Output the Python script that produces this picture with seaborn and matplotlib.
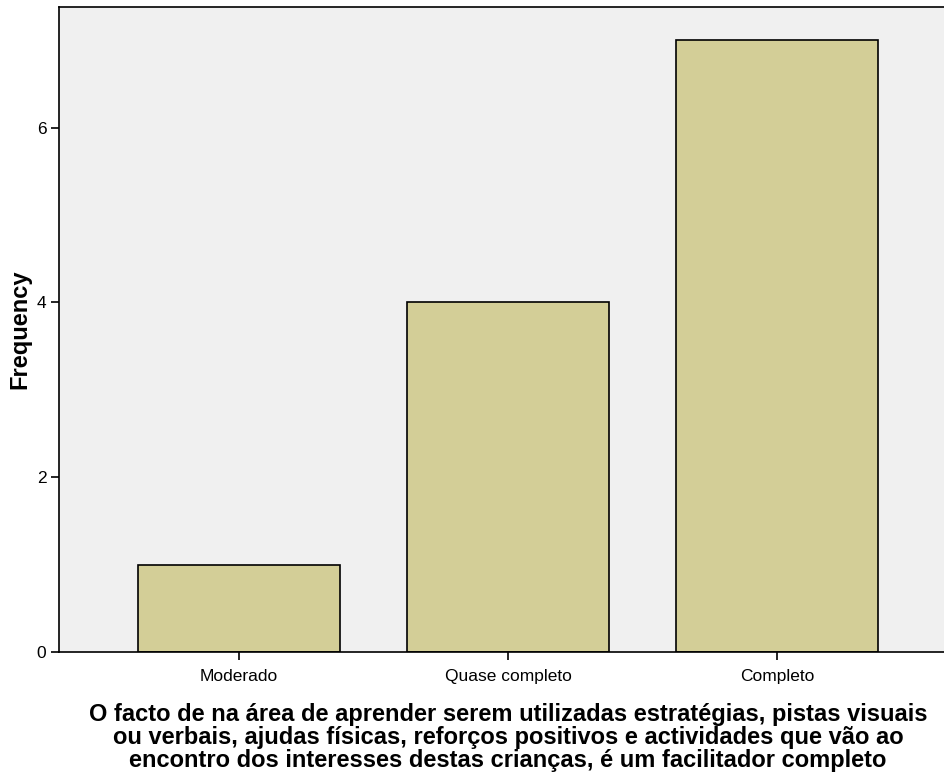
import matplotlib
matplotlib.use("Agg")
import matplotlib.pyplot as plt
import seaborn as sns
import pandas as pd

categories = ["Moderado", "Quase completo", "Completo"]
frequency = [1, 4, 7]
y_ticks = [0, 2, 4, 6]
x_title = ("O facto de na área de aprender serem utilizadas estratégias, pistas visuais\n"
           "ou verbais, ajudas físicas, reforços positivos e actividades que vão ao\n"
           "encontro dos interesses destas crianças, é um facilitador completo")

sns.set_style("white")
plt.rcParams["font.family"] = ["Liberation Sans", "DejaVu Sans"]
plt.rcParams["text.color"] = "black"
plt.rcParams["axes.labelcolor"] = "black"
plt.rcParams["xtick.color"] = "black"
plt.rcParams["ytick.color"] = "black"

df = pd.DataFrame({"cat": categories, "freq": frequency})

fig = plt.figure(figsize=(9.45, 7.74), dpi=100)
ax = fig.add_axes([59 / 945, 122 / 774, 898 / 945, 645 / 774])
ax.set_facecolor("#F0F0F0")

sns.barplot(data=df, x="cat", y="freq", color="#D3CE97", width=0.75,
            edgecolor="black", linewidth=1.2, saturation=1, ax=ax)

ax.set_xlim(-0.669, 2.669)
ax.set_ylim(0, 7.38)
ax.set_yticks(y_ticks)
ax.tick_params(axis="both", direction="out", length=6, width=1.2, color="black",
               labelcolor="black", labelsize=12.5, left=True, bottom=True)
ax.tick_params(axis="x", pad=6)
ax.tick_params(axis="y", pad=3)
ax.set_ylabel("Frequency", fontsize=17, fontweight="bold", labelpad=4)
ax.set_xlabel(x_title, fontsize=17, fontweight="bold", labelpad=14, linespacing=1.0)
for side in ["left", "top", "bottom"]:
    ax.spines[side].set_color("black")
    ax.spines[side].set_linewidth(1.2)
ax.spines["right"].set_visible(False)

fig.savefig("out.png", dpi=100)
